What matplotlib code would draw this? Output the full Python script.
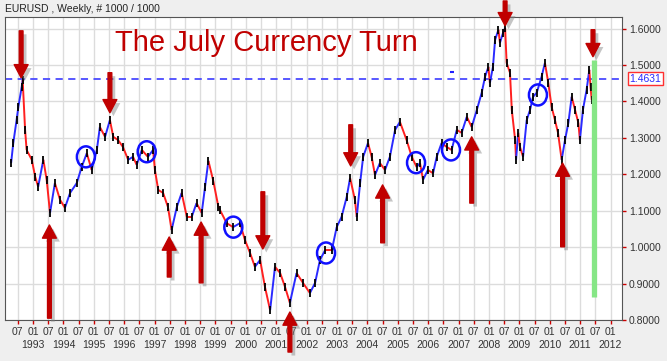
import matplotlib
matplotlib.use("Agg")
import matplotlib.pyplot as plt
import matplotlib.patheffects as pe
import numpy as np
from matplotlib.collections import LineCollection
from matplotlib.patches import Ellipse
from matplotlib.transforms import blended_transform_factory

plt.rcParams["font.family"] = ["Liberation Sans", "DejaVu Sans"]

# ── Data ─────────────────────────────────────────────────────────────────────
dates = [1992.28, 1992.35, 1992.46, 1992.52, 1992.63, 1992.66, 1992.74, 1992.79, 1992.96,
         1993.07, 1993.17, 1993.34, 1993.45, 1993.56, 1993.72, 1993.89, 1994.05, 1994.22,
         1994.44, 1994.60, 1994.77, 1994.93, 1995.10, 1995.20, 1995.37, 1995.53, 1995.64,
         1995.80, 1995.96, 1996.13, 1996.29, 1996.41, 1996.58, 1996.78, 1996.95, 1997.01,
         1997.12, 1997.28, 1997.44, 1997.56, 1997.73, 1997.89, 1998.06, 1998.22, 1998.38,
         1998.55, 1998.66, 1998.77, 1998.93, 1999.10, 1999.15, 1999.37, 1999.58, 1999.81,
         1999.97, 2000.14, 2000.30, 2000.47, 2000.63, 2000.80, 2000.96, 2001.13, 2001.29,
         2001.45, 2001.67, 2001.88, 2002.11, 2002.28, 2002.44, 2002.61, 2002.83, 2002.99,
         2003.15, 2003.32, 2003.43, 2003.59, 2003.65, 2003.76, 2003.86, 2004.02, 2004.14,
         2004.25, 2004.41, 2004.58, 2004.74, 2004.91, 2005.07, 2005.29, 2005.46, 2005.62,
         2005.73, 2005.83, 2005.99, 2006.16, 2006.28, 2006.44, 2006.61, 2006.77, 2006.94,
         2007.10, 2007.27, 2007.43, 2007.60, 2007.76, 2007.87, 2007.98, 2008.03, 2008.13,
         2008.20, 2008.31, 2008.36, 2008.46, 2008.53, 2008.58, 2008.69, 2008.75, 2008.86,
         2008.89, 2008.96, 2009.02, 2009.12, 2009.24, 2009.35, 2009.45, 2009.57, 2009.73,
         2009.84, 2009.95, 2010.06, 2010.17, 2010.27, 2010.39, 2010.50, 2010.61, 2010.72,
         2010.83, 2010.94, 2010.99, 2011.09, 2011.21, 2011.30, 2011.34, 2011.38]
prices = [1.231, 1.285, 1.349, 1.386, 1.441, 1.459, 1.322, 1.267, 1.240,
          1.194, 1.166, 1.240, 1.185, 1.094, 1.176, 1.130, 1.108, 1.149,
          1.176, 1.220, 1.258, 1.212, 1.267, 1.330, 1.303, 1.349, 1.303,
          1.294, 1.275, 1.240, 1.248, 1.226, 1.267, 1.248, 1.267, 1.212,
          1.157, 1.149, 1.110, 1.047, 1.110, 1.149, 1.083, 1.083, 1.121,
          1.094, 1.166, 1.237, 1.182, 1.110, 1.102, 1.066, 1.055, 1.066,
          1.020, 0.984, 0.946, 0.965, 0.891, 0.827, 0.946, 0.929, 0.891,
          0.847, 0.929, 0.902, 0.874, 0.902, 0.965, 0.992, 0.992, 1.055,
          1.083, 1.138, 1.190, 1.130, 1.083, 1.176, 1.248, 1.286, 1.248,
          1.198, 1.231, 1.212, 1.248, 1.322, 1.344, 1.294, 1.248, 1.220,
          1.231, 1.185, 1.212, 1.203, 1.248, 1.286, 1.275, 1.267, 1.322,
          1.314, 1.358, 1.330, 1.377, 1.424, 1.468, 1.495, 1.451, 1.495,
          1.569, 1.597, 1.561, 1.588, 1.602, 1.506, 1.479, 1.377, 1.294,
          1.240, 1.314, 1.275, 1.248, 1.349, 1.377, 1.413, 1.424, 1.468,
          1.506, 1.451, 1.385, 1.349, 1.314, 1.240, 1.294, 1.341, 1.413,
          1.377, 1.341, 1.294, 1.377, 1.432, 1.487, 1.440, 1.404]

last_price = 1.4631
last_label = "1.4631"

# red arrows: date, start price, end (tip) price
down_dates = [1992.61, 1995.53, 2000.56, 2003.45, 2008.53, 2011.42]
down_from = [1.594, 1.479, 1.152, 1.336, 1.676, 1.597]
down_to = [1.465, 1.369, 0.995, 1.223, 1.608, 1.523]
up_dates = [1993.54, 1997.48, 1998.53, 2001.45, 2004.50, 2007.43, 2010.42]
up_from = [0.805, 0.918, 0.902, 0.712, 1.012, 1.121, 1.001]
up_to = [1.061, 1.028, 1.069, 0.822, 1.171, 1.303, 1.231]

# blue circles
circle_dates = [1994.74, 1996.74, 1999.59, 2002.64, 2005.60, 2006.75, 2009.61]
circle_prices = [1.248, 1.262, 1.055, 0.984, 1.232, 1.267, 1.418]

# green bar
green_date = 2011.45
green_low, green_high = 0.863, 1.514

# small blue tick
dot_date, dot_price = 2006.78, 1.481

half_years = np.arange(1992.5, 2012.01, 0.5)
years = np.arange(1993, 2013)
y_ticks = np.arange(0.8, 1.601, 0.1)

# ── Figure ───────────────────────────────────────────────────────────────────
W, H = 667, 361
fig = plt.figure(figsize=(W / 100, H / 100), dpi=100)
fig.patch.set_facecolor("#efefef")
ax = fig.add_axes([5 / W, 1 - 320 / H, 617 / W, 303 / H])
ax.set_facecolor("white")
ax.set_xlim(1992.079, 2012.375)
ax.set_ylim(0.8, 1.632)

# grid
for x in half_years:
    ax.axvline(x, color="#dcdcdc", lw=1, zorder=0)
for y in y_ticks:
    ax.axhline(y, color="#dcdcdc", lw=1, zorder=0)

# price path, blue rising / red falling, black bar ticks
pts = np.column_stack([dates, prices])
segs = np.stack([pts[:-1], pts[1:]], axis=1)
cols = ["#2a2aff" if b > a else "#ff2020" for a, b in zip(prices[:-1], prices[1:])]
ax.add_collection(LineCollection(segs, colors=cols, linewidths=1.4, zorder=3))
ax.plot(dates, prices, ls="none", marker="|", ms=6, mew=1.3, color="black", zorder=4)

# dashed level line
ax.axhline(last_price, color="#4a4aff", lw=1.3, ls=(0, (4, 3)), zorder=2)
ax.plot(dot_date, dot_price, marker="_", ms=3, mew=1.5, color="#2020ff", zorder=4)

# green bar
ax.vlines(green_date, green_low, green_high, color="#86e686", lw=3.8, zorder=5)

# circles
cw, ch = 18 / 30.4, 21 / 364
for d, p in zip(circle_dates, circle_prices):
    ax.add_patch(Ellipse((d, p), cw, ch, fill=False, ec="#1010ff", lw=1.8, zorder=6))

# arrows
shadow = [pe.SimplePatchShadow(offset=(2.5, -2.5), shadow_rgbFace="#808080", alpha=0.45),
          pe.Normal()]
style = "simple,head_length=0.95,head_width=1.0,tail_width=0.27"
for d, a, b in list(zip(down_dates, down_from, down_to)) + list(zip(up_dates, up_from, up_to)):
    ax.annotate("", xy=(d, b), xytext=(d, a), annotation_clip=False,
                arrowprops=dict(arrowstyle=style, mutation_scale=10, color="#c00000",
                                shrinkA=0, shrinkB=0, path_effects=shadow), zorder=7)

# title texts
ax.text(266.5 / W, 1 - 43 / H, "The July Currency Turn", transform=fig.transFigure,
        ha="center", va="center", fontsize=21, color="#c00000")
fig.text(5 / W, 1 - 9 / H, "EURUSD , Weekly, # 1000 / 1000", fontsize=7.5,
         color="#222222", va="center")

# axes styling
for s in ax.spines.values():
    s.set_color("#555555")
ax.yaxis.tick_right()
ax.set_yticks(y_ticks)
ax.set_yticklabels([f"{v:.4f}" for v in y_ticks])
ax.set_xticks(half_years)
ax.set_xticklabels(["01" if x % 1 == 0 else "07" for x in half_years])
ax.tick_params(axis="both", colors="#cc0000", length=3, width=1, labelsize=7.5,
               labelcolor="#333333", pad=2)

# year row under the "01" ticks
xtrans = blended_transform_factory(ax.transData, fig.transFigure)
for yr in years:
    ax.text(yr, 1 - 345 / H, str(yr), transform=xtrans, ha="center", va="center",
            fontsize=7.5, color="#333333")

trans = blended_transform_factory(ax.transAxes, ax.transData)
ax.text(1.012, last_price, last_label, transform=trans, fontsize=7.5, color="#2a2aff",
        va="center", ha="left",
        bbox=dict(boxstyle="square,pad=0.15", fc="white", ec="#ff3030", lw=1))

fig.savefig("out.png", dpi=100, facecolor=fig.get_facecolor())
